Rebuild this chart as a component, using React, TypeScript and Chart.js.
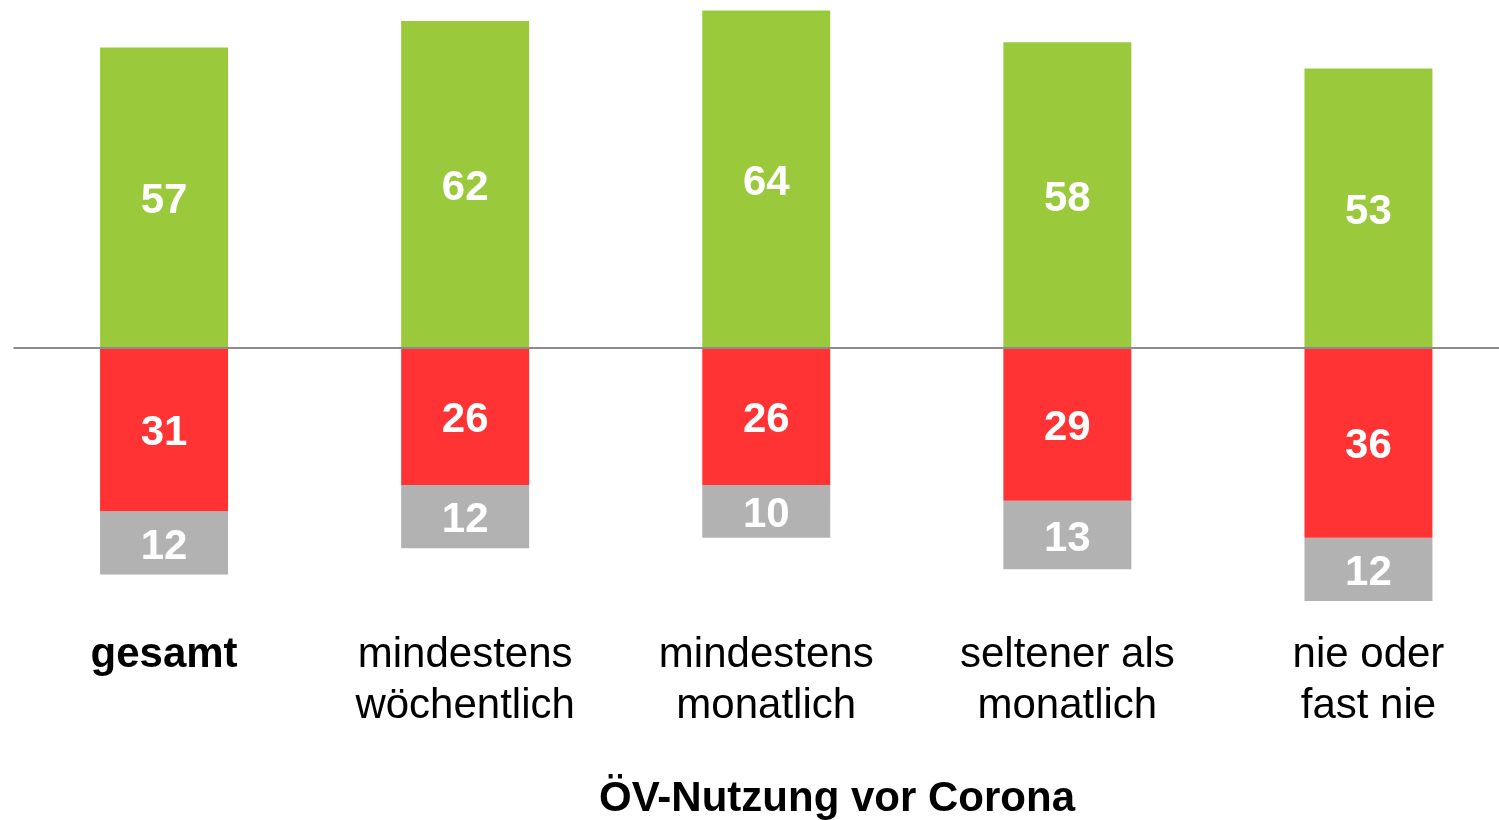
import React, { useEffect, useRef } from "react";
import { Chart, registerables } from "chart.js";

Chart.register(...registerables);

const categories: (string | string[])[] = [
  "gesamt",
  ["mindestens", "wöchentlich"],
  ["mindestens", "monatlich"],
  ["seltener als", "monatlich"],
  ["nie oder", "fast nie"],
];
const greenValues = [57, 62, 64, 58, 53];
const redValues = [31, 26, 26, 29, 36];
const grayValues = [12, 12, 10, 13, 12];
const axisTitle = "ÖV-Nutzung vor Corona";

const FONT = "'Liberation Sans', Arial, sans-serif";

const labelPlugin = {
  id: "segmentLabels",
  afterDatasetsDraw(chart: any) {
    const ctx = chart.ctx;
    ctx.save();
    ctx.font = `bold 42px ${FONT}`;
    ctx.fillStyle = "#ffffff";
    ctx.textAlign = "center";
    ctx.textBaseline = "middle";
    chart.data.datasets.forEach((ds: any, di: number) => {
      const meta = chart.getDatasetMeta(di);
      meta.data.forEach((bar: any, i: number) => {
        const v = Math.abs(ds.data[i]);
        const cy = (bar.y + bar.base) / 2;
        ctx.fillText(String(v), bar.x, cy + 4);
      });
    });
    // zero line
    const y0 = chart.scales.y.getPixelForValue(0);
    ctx.strokeStyle = "#8c8c8c";
    ctx.lineWidth = 2;
    ctx.beginPath();
    ctx.moveTo(chart.chartArea.left, y0);
    ctx.lineTo(chart.chartArea.right, y0);
    ctx.stroke();
    // axis title
    ctx.fillStyle = "#000000";
    ctx.font = `bold 42px ${FONT}`;
    ctx.fillText(axisTitle, 837, 799);
    ctx.restore();
  },
};

export default function App() {
  const ref = useRef<HTMLCanvasElement>(null);
  useEffect(() => {
    if (!ref.current) return;
    const chart = new Chart(ref.current, {
      type: "bar",
      data: {
        labels: categories as any,
        datasets: [
          { label: "positiv", data: greenValues, backgroundColor: "#9ACA3C" },
          { label: "negativ", data: redValues.map((v) => -v), backgroundColor: "#FF3333" },
          { label: "keine Angabe", data: grayValues.map((v) => -v), backgroundColor: "#B2B2B2" },
        ],
      },
      options: {
        responsive: false,
        animation: false,
        layout: { padding: { left: 13.5, right: 0, top: 0, bottom: 0 } },
        plugins: { legend: { display: false }, tooltip: { enabled: false } },
        datasets: { bar: { categoryPercentage: 1, barPercentage: 0.425 } },
        scales: {
          x: {
            stacked: true,
            grid: { display: false, drawTicks: false, tickLength: 0 },
            border: { display: false },
            afterFit: (s: any) => {
              s.height = 198;
            },
            ticks: {
              padding: 8,
              color: "#000000",
              maxRotation: 0,
              autoSkip: false,
              font: (c: any) => ({
                family: FONT,
                size: 42,
                lineHeight: 1.215,
                weight: c.index === 0 ? "bold" : "normal",
              }),
            },
          },
          y: {
            stacked: true,
            display: false,
            min: -52,
            max: 66,
          },
        },
      },
      plugins: [labelPlugin],
    });
    return () => chart.destroy();
  }, []);
  return (
    <div style={{ position: "fixed", left: 0, top: 0, width: 1499, height: 820, overflow: "hidden", background: "#fff" }}>
      <canvas ref={ref} width={1519} height={820} style={{ width: 1519, height: 820, display: "block" }} />
    </div>
  );
}
